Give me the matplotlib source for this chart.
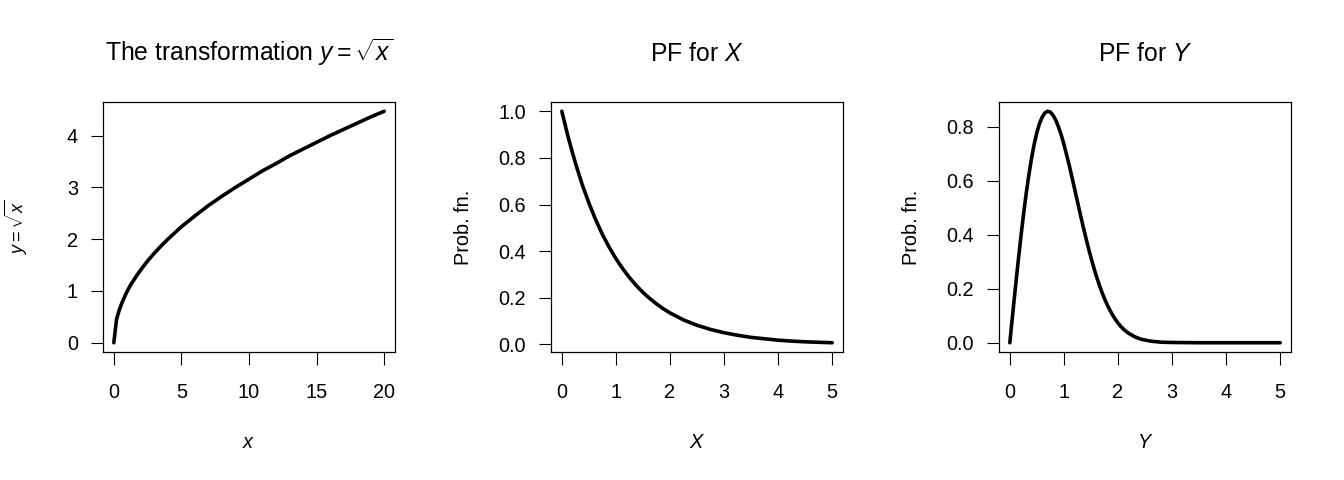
import matplotlib
matplotlib.use("Agg")
import matplotlib.pyplot as plt
from matplotlib.ticker import FormatStrFormatter

plt.rcParams['font.family'] = ['Liberation Sans', 'DejaVu Sans']
plt.rcParams['mathtext.fontset'] = 'custom'
plt.rcParams['mathtext.rm'] = 'Liberation Sans'
plt.rcParams['mathtext.it'] = 'Liberation Sans:italic'
plt.rcParams['mathtext.bf'] = 'Liberation Sans:bold'

# ---- data ----
sqrt_x = [0, 0.2, 0.4, 0.6, 0.8, 1.0, 1.25, 1.5, 1.75, 2, 2.5, 3, 3.5, 4, 4.5, 5, 6, 7, 8, 9,
          10, 11, 12, 13, 14, 15, 16, 17, 18, 19, 20]
sqrt_y = [0, 0.45, 0.63, 0.77, 0.89, 1.0, 1.12, 1.22, 1.32, 1.41, 1.58, 1.73, 1.87, 2.0,
          2.12, 2.24, 2.45, 2.65, 2.83, 3.0, 3.16, 3.32, 3.46, 3.61, 3.74, 3.87, 4.0, 4.12,
          4.24, 4.36, 4.47]

pfX_x = [0, 0.125, 0.25, 0.375, 0.5, 0.625, 0.75, 0.875, 1, 1.125, 1.25, 1.375, 1.5,
         1.625, 1.75, 1.875, 2, 2.25, 2.5, 2.75, 3, 3.25, 3.5, 3.75, 4, 4.25, 4.5, 4.75, 5]
pfX_y = [1, 0.882, 0.779, 0.687, 0.607, 0.535, 0.472, 0.417, 0.368, 0.325, 0.287, 0.253,
         0.223, 0.197, 0.174, 0.153, 0.135, 0.105, 0.082, 0.064, 0.050, 0.039, 0.030,
         0.024, 0.018, 0.014, 0.011, 0.009, 0.007]

pfY_x = [0, 0.05, 0.1, 0.15, 0.2, 0.25, 0.3, 0.35, 0.4, 0.45, 0.5, 0.55, 0.6, 0.65, 0.7,
         0.75, 0.8, 0.85, 0.9, 0.95, 1.0, 1.05, 1.1, 1.15, 1.2, 1.25, 1.3, 1.35, 1.4, 1.45,
         1.5, 1.55, 1.6, 1.65, 1.7, 1.75, 1.8, 1.85, 1.9, 1.95, 2.0, 2.05, 2.1, 2.15, 2.2,
         2.25, 2.3, 2.35, 2.4, 2.45, 2.5, 2.55, 2.6, 2.8, 3.0, 3.5, 4, 4.5, 5]
pfY_y = [0, 0.100, 0.198, 0.293, 0.384, 0.470, 0.549, 0.619, 0.682, 0.735, 0.779, 0.813,
         0.837, 0.852, 0.858, 0.855, 0.843, 0.825, 0.800, 0.771, 0.736, 0.697, 0.657,
         0.613, 0.569, 0.524, 0.479, 0.436, 0.394, 0.354, 0.316, 0.281, 0.247, 0.217,
         0.189, 0.164, 0.141, 0.121, 0.103, 0.087, 0.073, 0.061, 0.051, 0.042, 0.035,
         0.029, 0.023, 0.019, 0.015, 0.012, 0.010, 0.008, 0.006, 0.002, 0.001, 0, 0, 0, 0]

titles = [r"The transformation $y = \sqrt{x}$", r"PF for $X$", r"PF for $Y$"]
xlabels = [r"$x$", r"$X$", r"$Y$"]
ylabels = [r"$y = \sqrt{x}$", "Prob. fn.", "Prob. fn."]
xticks = [[0, 5, 10, 15, 20], [0, 1, 2, 3, 4, 5], [0, 1, 2, 3, 4, 5]]
yticks = [[0, 1, 2, 3, 4], [0.0, 0.2, 0.4, 0.6, 0.8, 1.0], [0.0, 0.2, 0.4, 0.6, 0.8]]
yfmt = ["%d", "%.1f", "%.1f"]
series = [(sqrt_x, sqrt_y), (pfX_x, pfX_y), (pfY_x, pfY_y)]

W, H = 1344, 480
fig = plt.figure(figsize=(W / 100, H / 100), dpi=100)
lefts = [103, 551, 999]
box_w, box_top, box_bot = 292, 102, 352

for i in range(3):
    ax = fig.add_axes([lefts[i] / W, 1 - box_bot / H, box_w / W, (box_bot - box_top) / H])
    xs, ys = series[i]
    ax.plot(xs, ys, color='black', lw=2.6, solid_capstyle='round', solid_joinstyle='round')
    ax.margins(x=0.04, y=0.04)
    ax.set_xticks(xticks[i])
    ax.set_yticks(yticks[i])
    ax.yaxis.set_major_formatter(FormatStrFormatter(yfmt[i]))
    ax.tick_params(direction='out', length=9, width=0.8, labelsize=14.3, color='black',
                   top=False, right=False)
    ax.tick_params(axis='x', pad=13)
    ax.tick_params(axis='y', pad=9)
    for s in ax.spines.values():
        s.set_linewidth(0.9)
    ax.text(0.5, 1.164, titles[i], transform=ax.transAxes, ha='center', va='baseline',
            fontsize=17.8)
    ax.text(0.5, -0.384, xlabels[i], transform=ax.transAxes, ha='center', va='baseline',
            fontsize=14.3)
    ax.text(-0.298, 0.5, ylabels[i], transform=ax.transAxes, ha='center', va='center',
            rotation=90, fontsize=14.3 if i > 0 else 13)

fig.savefig("out.png", dpi=100)
